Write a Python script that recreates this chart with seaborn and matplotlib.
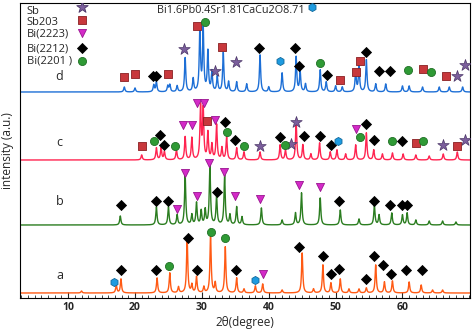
import numpy as np
import pandas as pd
import matplotlib
matplotlib.use("Agg")
import matplotlib.pyplot as plt
import seaborn as sns
from matplotlib.ticker import MultipleLocator

# peak positions (2theta) and heights, one pair per pattern
a_pos = [12.0, 17.2, 17.9, 23.3, 25.2, 26.5, 27.8, 28.5, 29.2, 30.3, 31.3, 32.0, 33.5, 35.2, 36.3, 38.0, 39.1,
         42.0, 45.0, 46.7, 48.1, 49.3, 50.7, 52.0, 53.5, 54.6, 56.0, 57.3, 58.5, 61.0, 62.8, 64.5, 66.0]
a_h = [2, 8, 14, 15, 20, 6, 55, 8, 16, 6, 58, 10, 46, 15, 4, 7, 9,
       3, 40, 4, 28, 10, 14, 4, 4, 5, 28, 11, 12, 11, 8, 3, 3]

b_pos = [17.8, 23.2, 25.0, 26.3, 27.5, 28.5, 29.2, 29.9, 30.5, 31.2, 32.2, 33.4, 34.2, 35.2, 36.0, 38.9, 42.0,
         44.0, 44.9, 47.7, 50.7, 53.5, 55.8, 56.5, 58.4, 60.0, 60.7, 62.0, 64.0, 66.0, 68.0]
b_h = [9, 18, 18, 10, 50, 10, 22, 14, 15, 60, 28, 50, 10, 18, 8, 17, 5,
       12, 32, 27, 15, 6, 20, 10, 12, 10, 12, 5, 4, 4, 3]

c_pos = [21.0, 23.2, 23.9, 24.4, 26.2, 27.5, 28.5, 29.8, 30.2, 30.9, 31.5, 32.2, 33.0, 33.7, 35.2, 36.3, 38.7,
         41.7, 42.5, 44.1, 45.1, 46.3, 47.6, 49.2, 50.2, 51.5, 53.0, 54.6, 55.7, 57.0, 58.5, 60.1, 62.0, 64.0,
         66.1, 68.2]
c_h = [5, 12, 12, 8, 10, 23, 22, 53, 50, 27, 15, 35, 12, 23, 12, 8, 8,
       15, 10, 38, 15, 6, 17, 8, 10, 6, 15, 27, 10, 6, 7, 6, 5, 4,
       6, 8]

d_pos = [18.4, 20.0, 22.8, 23.2, 24.9, 25.2, 26.3, 27.5, 28.7, 29.7, 30.2, 30.9, 31.5, 32.3, 33.2, 34.0, 35.2,
         36.7, 38.7, 40.0, 42.0, 44.1, 44.7, 45.5, 47.7, 48.6, 50.0, 51.0, 53.0, 53.5, 54.6, 56.0, 57.5, 60.0,
         61.0, 63.0, 65.5, 67.0, 69.0]
d_h = [5, 4, 7, 10, 6, 7, 6, 34, 13, 62, 62, 40, 20, 15, 39, 10, 10,
       8, 37, 5, 19, 35, 20, 8, 22, 10, 6, 5, 20, 25, 32, 8, 8, 6,
       6, 5, 5, 5, 5]

# phase markers (2theta, height in the same units as the stacked patterns)
sb_x = [27.4, 31.9, 35.1, 68.2, 69.4, 38.7, 43.3, 44.1, 66.0, 69.3]
sb_y = [248.7, 227.3, 236.3, 222, 233, 152, 154, 176.3, 153, 158]
sb2o3_x = [18.3, 20.0, 24.9, 29.3, 33.0, 50.7, 53.0, 53.6, 63.1, 66.5, 21.0, 30.8, 62.0, 68.2]
sb2o3_y = [221.3, 223.7, 224, 272, 251.3, 218, 225.7, 237.3, 228.7, 222, 152, 177.3, 154.7, 152]
bi2223_x = [27.2, 28.5, 29.3, 30.3, 32.0, 53.0, 26.3, 27.5, 29.2, 31.0, 33.3, 35.0, 38.7, 44.6, 47.6, 39.1]
bi2223_y = [173, 173, 194.7, 194.7, 178, 168.7, 89, 125.3, 102, 135, 126.3, 102, 99, 113, 111.3, 23.7]
bi2212_x = [22.7, 23.2, 38.6, 44.0, 44.6, 48.7, 54.6, 56.5, 58.2,
            23.8, 24.4, 33.4, 35.0, 41.7, 45.2, 47.6, 49.3, 54.6, 55.8, 60.0,
            17.9, 23.2, 25.0, 32.2, 50.5, 55.8, 58.2, 60.0, 60.7,
            17.9, 23.2, 27.9, 29.2, 35.1, 44.6, 48.1, 49.3, 50.5, 54.6, 55.8, 57.1, 58.3, 60.6, 62.9]
bi2212_y = [222, 222, 250.3, 250.3, 232, 222.7, 245.7, 227.3, 227.3,
            163, 153, 176.3, 158, 161.3, 162, 162, 153, 174, 158, 157,
            93, 97.3, 97.3, 106.3, 97.3, 97.3, 93, 93, 93,
            28, 28, 60.3, 28, 28, 51, 42, 24, 29, 19, 42, 33, 24, 28, 28]
bi2201_x = [30.5, 47.6, 60.8, 64.3, 22.8, 26.0, 33.7, 36.3, 42.5, 53.6, 58.4, 63.1, 25.1, 31.3, 33.4]
bi2201_y = [276.3, 235.3, 228, 226.3, 157, 152, 166.3, 152, 153, 161.3, 157, 157, 32, 66.3, 60]
bscco_x = [41.7, 50.3, 16.8, 37.9]
bscco_y = [237, 157, 16, 18]

labels = ["a", "b", "c", "d"]
offsets = [5, 73, 138, 206]
label_y = [22.3, 96.3, 155, 221]
colors = ["#ff5a14", "#2b7d20", "#ff2450", "#1d6fd6"]

sns.set_style("ticks")
plt.rcParams['font.family'] = ['Open Sans', 'DejaVu Sans']

fig = plt.figure(figsize=(4.72, 3.34), dpi=100)
ax = fig.add_axes([20 / 472, 36 / 334, 450 / 472, 295 / 334])

tt = np.arange(2.8, 70.1, 0.02)


def pattern(pos, h, base):
    y = np.full_like(tt, float(base))
    for p, hh in zip(pos, h):
        y += hh / (1 + ((tt - p) / 0.11) ** 2)
    return y


for lab, pos, h, off, ly, col in zip(labels, [a_pos, b_pos, c_pos, d_pos], [a_h, b_h, c_h, d_h],
                                     offsets, label_y, colors):
    df = pd.DataFrame({"tt": tt, "I": pattern(pos, h, off)})
    sns.lineplot(data=df, x="tt", y="I", color=col, lw=1.0, ax=ax, legend=False)
    ax.text(8.7, ly, lab, fontsize=9, ha="center", va="center")

mk = dict(s=34, linewidth=0.6, zorder=5)
sns.scatterplot(x=sb_x, y=sb_y, marker="*", color="#7b5e9c", edgecolor="#4a3566", s=75, linewidth=0.5, zorder=5, ax=ax)
sns.scatterplot(x=sb2o3_x, y=sb2o3_y, marker="s", color="#c8383c", edgecolor="#8a1f22", ax=ax, **mk)
sns.scatterplot(x=bi2223_x, y=bi2223_y, marker="v", color="#d42ac8", edgecolor="#9a1590", ax=ax, **mk)
sns.scatterplot(x=bi2212_x, y=bi2212_y, marker="D", color="black", edgecolor="black", ax=ax, s=26, linewidth=0.6, zorder=5)
sns.scatterplot(x=bi2201_x, y=bi2201_y, marker="o", color="#2f9a35", edgecolor="#1f6f25", ax=ax, **mk)
sns.scatterplot(x=bscco_x, y=bscco_y, marker="h", color="#1e9be0", edgecolor="#13699b", ax=ax, **mk)

# key in the top-left corner
key_y = [291.3, 278, 264.7, 249.7, 237]
txt_y = [286.5, 275.5, 264, 249, 237]
key_txt = ["Sb", "Sb203", "Bi(2223)", "Bi(2212)", "Bi(2201 )"]
key_style = [("*", "#7b5e9c", "#4a3566", 75), ("s", "#c8383c", "#8a1f22", 34), ("v", "#d42ac8", "#9a1590", 34),
             ("D", "black", "black", 26), ("o", "#2f9a35", "#1f6f25", 34)]
for t, yk, yt, (m, fc, ec, s) in zip(key_txt, key_y, txt_y, key_style):
    ax.text(3.8, yt, t, fontsize=8, va="center", ha="left")
    ax.scatter([12.1], [yk], marker=m, color=fc, edgecolor=ec, s=s, linewidth=0.6, zorder=5)
ax.text(23.3, 287.5, "Bi1.6Pb0.4Sr1.81CaCu2O8.71", fontsize=7.8, va="center", ha="left")
ax.scatter([46.4], [291.3], marker="h", color="#1e9be0", edgecolor="#13699b", s=34, linewidth=0.6, zorder=5)

ax.set_xlim(2.8, 70.1)
ax.set_ylim(0, 295)
ax.set_yticks([])
ax.set_xticks([10, 20, 30, 40, 50, 60])
ax.xaxis.set_minor_locator(MultipleLocator(1))
ax.tick_params(axis="x", which="major", direction="in", length=4, width=0.8, labelsize=7.5, pad=3, bottom=True)
ax.tick_params(axis="x", which="minor", direction="in", length=2, width=0.6, bottom=True)
for lbl in ax.get_xticklabels():
    lbl.set_fontweight("bold")
ax.set_xlabel("2θ(degree)", fontsize=8.5, labelpad=2)
ax.set_ylabel("intensity (a.u.)", fontsize=8.5, labelpad=4)
for sp in ax.spines.values():
    sp.set_visible(True)
    sp.set_color("black")
    sp.set_linewidth(0.8)

fig.savefig("out.png", dpi=100)
